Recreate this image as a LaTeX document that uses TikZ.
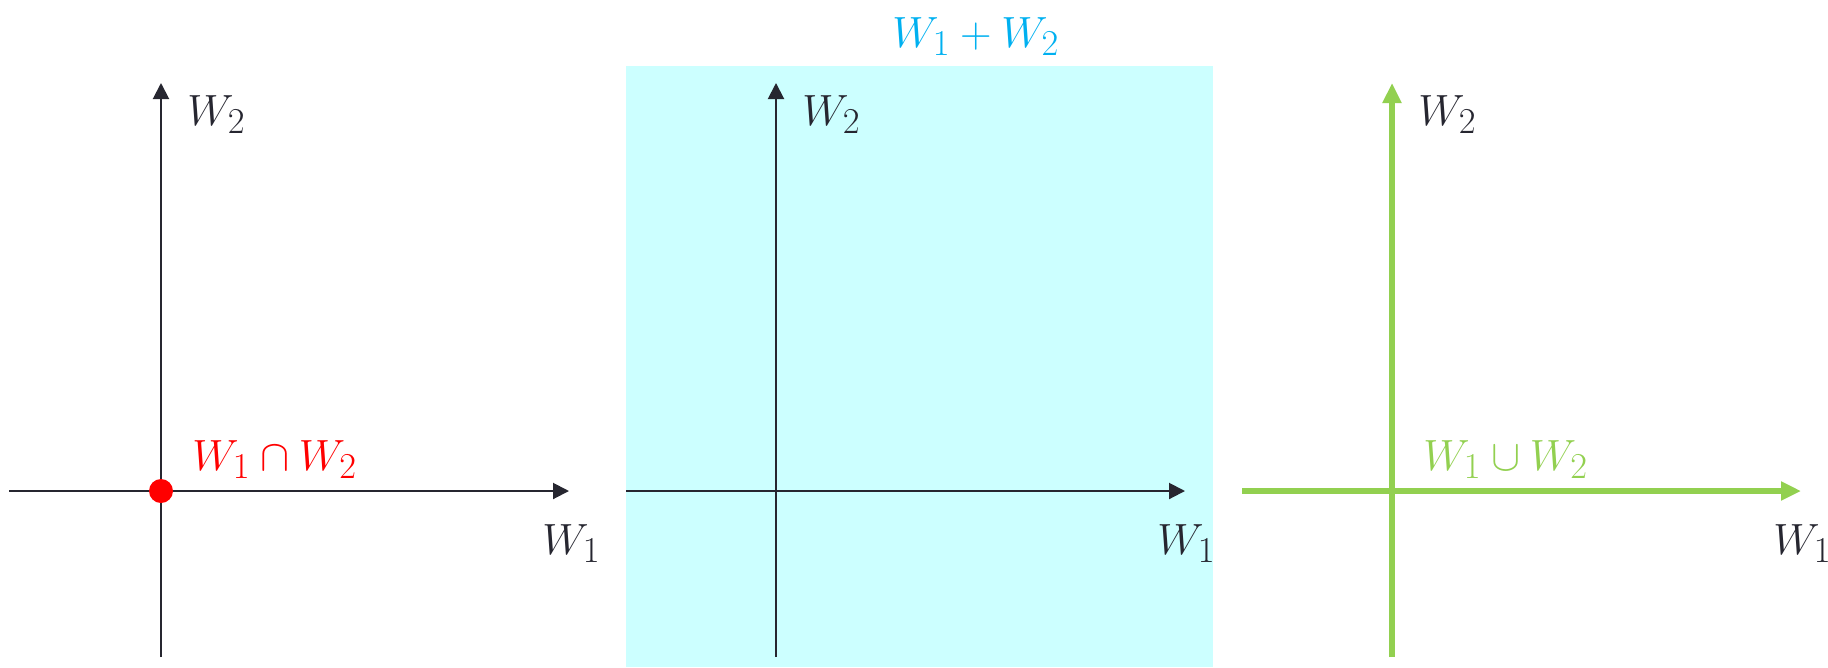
\documentclass[tikz,border=0pt]{standalone}
\usetikzlibrary{arrows.meta}
\definecolor{axisdark}{RGB}{38,38,48}
\definecolor{sumcyan}{RGB}{204,255,255}
\definecolor{sumblue}{RGB}{0,176,240}
\definecolor{unigreen}{RGB}{146,208,80}
\tikzset{
  axis/.style={axisdark, line width=0.04cm, -{Triangle[length=0.32cm,width=0.32cm]}},
  greenaxis/.style={unigreen, line width=0.12cm, -{Triangle[length=0.4cm,width=0.36cm]}},
  lab/.style={anchor=base west, inner sep=0pt, font=\fontsize{28}{34}\selectfont},
}
\begin{document}
\begin{tikzpicture}[x=0.02cm, y=-0.02cm]
    \useasboundingbox (0,0) rectangle (1828,667);

    % 交集：原点
    \draw[axis] (9,491) -- (569,491);
    \draw[axis] (161,657) -- (161,83);
    \fill[red] (161,491) circle (0.24cm);
    \node[lab, axisdark] (w2a) at (187,125) {$W_2$};
    \node[lab, axisdark] (w1a) at (542,554) {$W_1$};
    \node[lab, red] (cap) at (192,470) {$W_1 \cap W_2$};

    % 和：整个平面
    \fill[sumcyan] (626,66) rectangle (1213,667);
    \draw[axis] (626,491) -- (1185,491);
    \draw[axis] (776,657) -- (776,83);
    \node[lab, axisdark] (w2b) at (802,125) {$W_2$};
    \node[lab, axisdark] (w1b) at (1157,554) {$W_1$};
    \node[lab, sumblue] (sum) at (892,47) {$W_1 + W_2$};

    % 并集：两条轴
    \draw[greenaxis] (1392,657) -- (1392,83);
    \draw[greenaxis] (1242,491) -- (1801,491);
    \node[lab, axisdark] (w2c) at (1418,125) {$W_2$};
    \node[lab, axisdark] (w1c) at (1773,554) {$W_1$};
    \node[lab, unigreen] (cup) at (1423,470) {$W_1 \cup W_2$};
\end{tikzpicture}
\end{document}
